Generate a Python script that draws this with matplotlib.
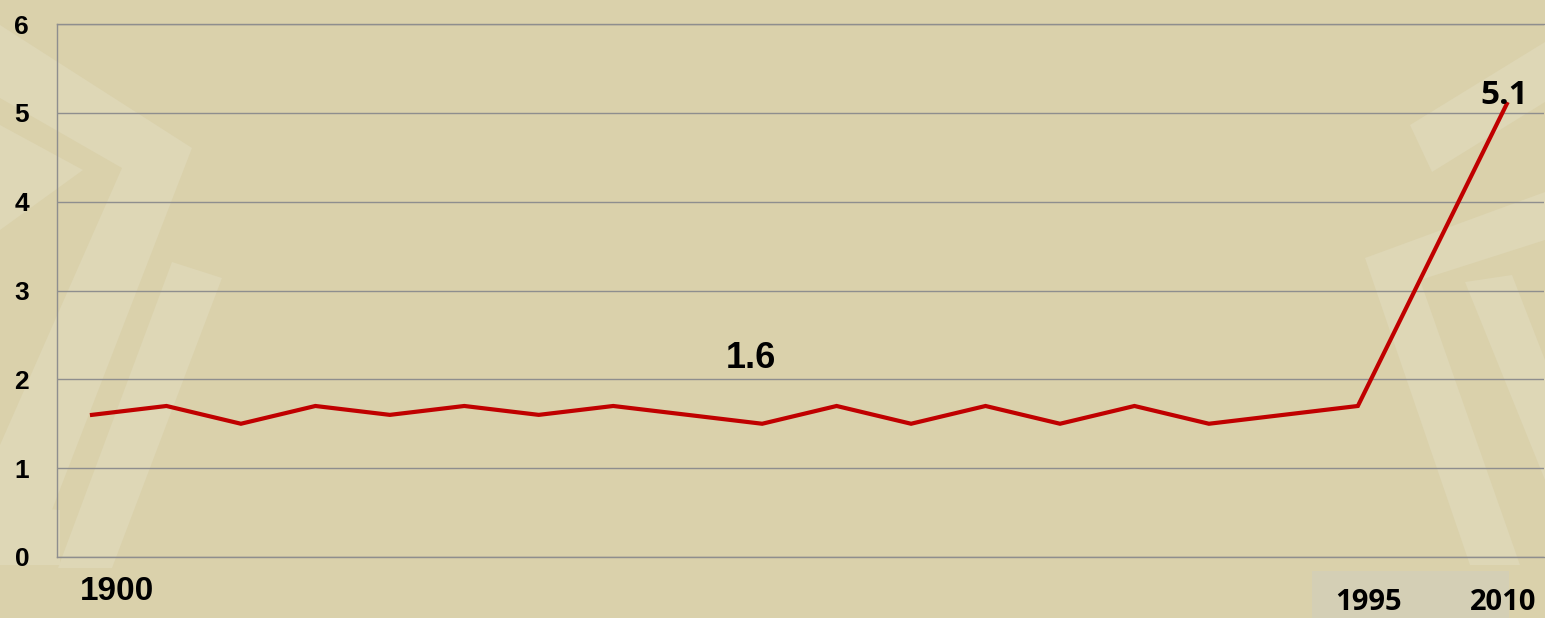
import matplotlib
matplotlib.use("Agg")
import matplotlib.pyplot as plt
from matplotlib.patches import Polygon, Rectangle

# ---- data ----
categories = ["1900", "", "", "", "", "", "", "", "", "", "", "", "", "", "", "", "", "1995", "", "2010"]
values = [1.6, 1.7, 1.5, 1.7, 1.6, 1.7, 1.6, 1.7, 1.6, 1.5,
          1.7, 1.5, 1.7, 1.5, 1.7, 1.5, 1.6, 1.7, 3.4, 5.1]
y_ticks = [0, 1, 2, 3, 4, 5, 6]
avg_label = "1.6"
end_label = "5.1"

W, H = 1545, 618
BG = "#DAD1AB"
BAND = "#DED7B6"
GRID = "#8E8E8E"

fig = plt.figure(figsize=(W / 100, H / 100), dpi=100, facecolor=BG)

def px(points):
    return [(x / W, 1 - y / H) for x, y in points]

# decorative light chevrons
shapes = [
    [(0, 25), (192, 148), (45, 528), (0, 528), (0, 445), (122, 168), (0, 98)],
    [(0, 125), (83, 170), (0, 230)],
    [(172, 262), (222, 278), (112, 568), (58, 568)],
    [(0, 505), (60, 510), (60, 565), (0, 565)],
    [(1545, 42), (1410, 125), (1432, 172), (1545, 102)],
    [(1545, 192), (1365, 258), (1470, 565), (1520, 565), (1420, 280), (1545, 240)],
    [(1465, 282), (1512, 275), (1545, 360), (1545, 480)],
]
for s in shapes:
    fig.patches.append(Polygon(px(s), closed=True, transform=fig.transFigure,
                               facecolor=BAND, edgecolor="none", zorder=-10))

# gray box behind the right-hand labels
fig.patches.append(Rectangle((1312 / W, 0), (1509 - 1312) / W, (618 - 571) / H,
                             transform=fig.transFigure, facecolor="#D4CFB5",
                             edgecolor="none", zorder=-9))

ax = fig.add_axes([57 / W, (H - 557) / H, (1544 - 57) / W, 533 / H])
ax.set_facecolor("none")
ax.set_zorder(1)

x = list(range(len(values)))
ax.plot(x, values, color="#C00000", linewidth=3.0, solid_joinstyle="miter", zorder=3)

ax.set_xlim(-0.47, 19.5)
ax.set_ylim(0, 6)
ax.set_yticks(y_ticks)
ax.set_yticklabels([str(t) for t in y_ticks], fontfamily="Liberation Sans",
                   fontweight="bold", fontsize=19)
ax.tick_params(axis="y", length=0, pad=20)
ax.set_xticks([])
ax.yaxis.grid(True, color=GRID, linewidth=1.0)
ax.set_axisbelow(True)
for side in ["left", "bottom", "top"]:
    ax.spines[side].set_color(GRID)
    ax.spines[side].set_linewidth(1.0)
ax.spines["right"].set_visible(False)

# category labels
xt = ax.get_xaxis_transform()
label_pos = {0: (0.34, -0.0807, "Liberation Sans", 24),
             17: (17.15, -0.099, "Open Sans", 21),
             19: (18.95, -0.099, "Open Sans", 21)}
for i, lab in enumerate(categories):
    if lab and i in label_pos:
        lx, ly, fam, fs = label_pos[i]
        ax.text(lx, ly, lab, transform=xt, ha="center", va="baseline",
                fontfamily=fam, fontweight="bold", fontsize=fs, clip_on=False)

# value labels
ax.text(8.85, 2.13, avg_label, ha="center", va="baseline",
        fontfamily="Liberation Sans", fontweight="bold", fontsize=26)
ax.text(18.97, 5.1, end_label, ha="center", va="baseline",
        fontfamily="Open Sans", fontweight="bold", fontsize=24)

fig.savefig("out.png", dpi=100, facecolor=BG)
